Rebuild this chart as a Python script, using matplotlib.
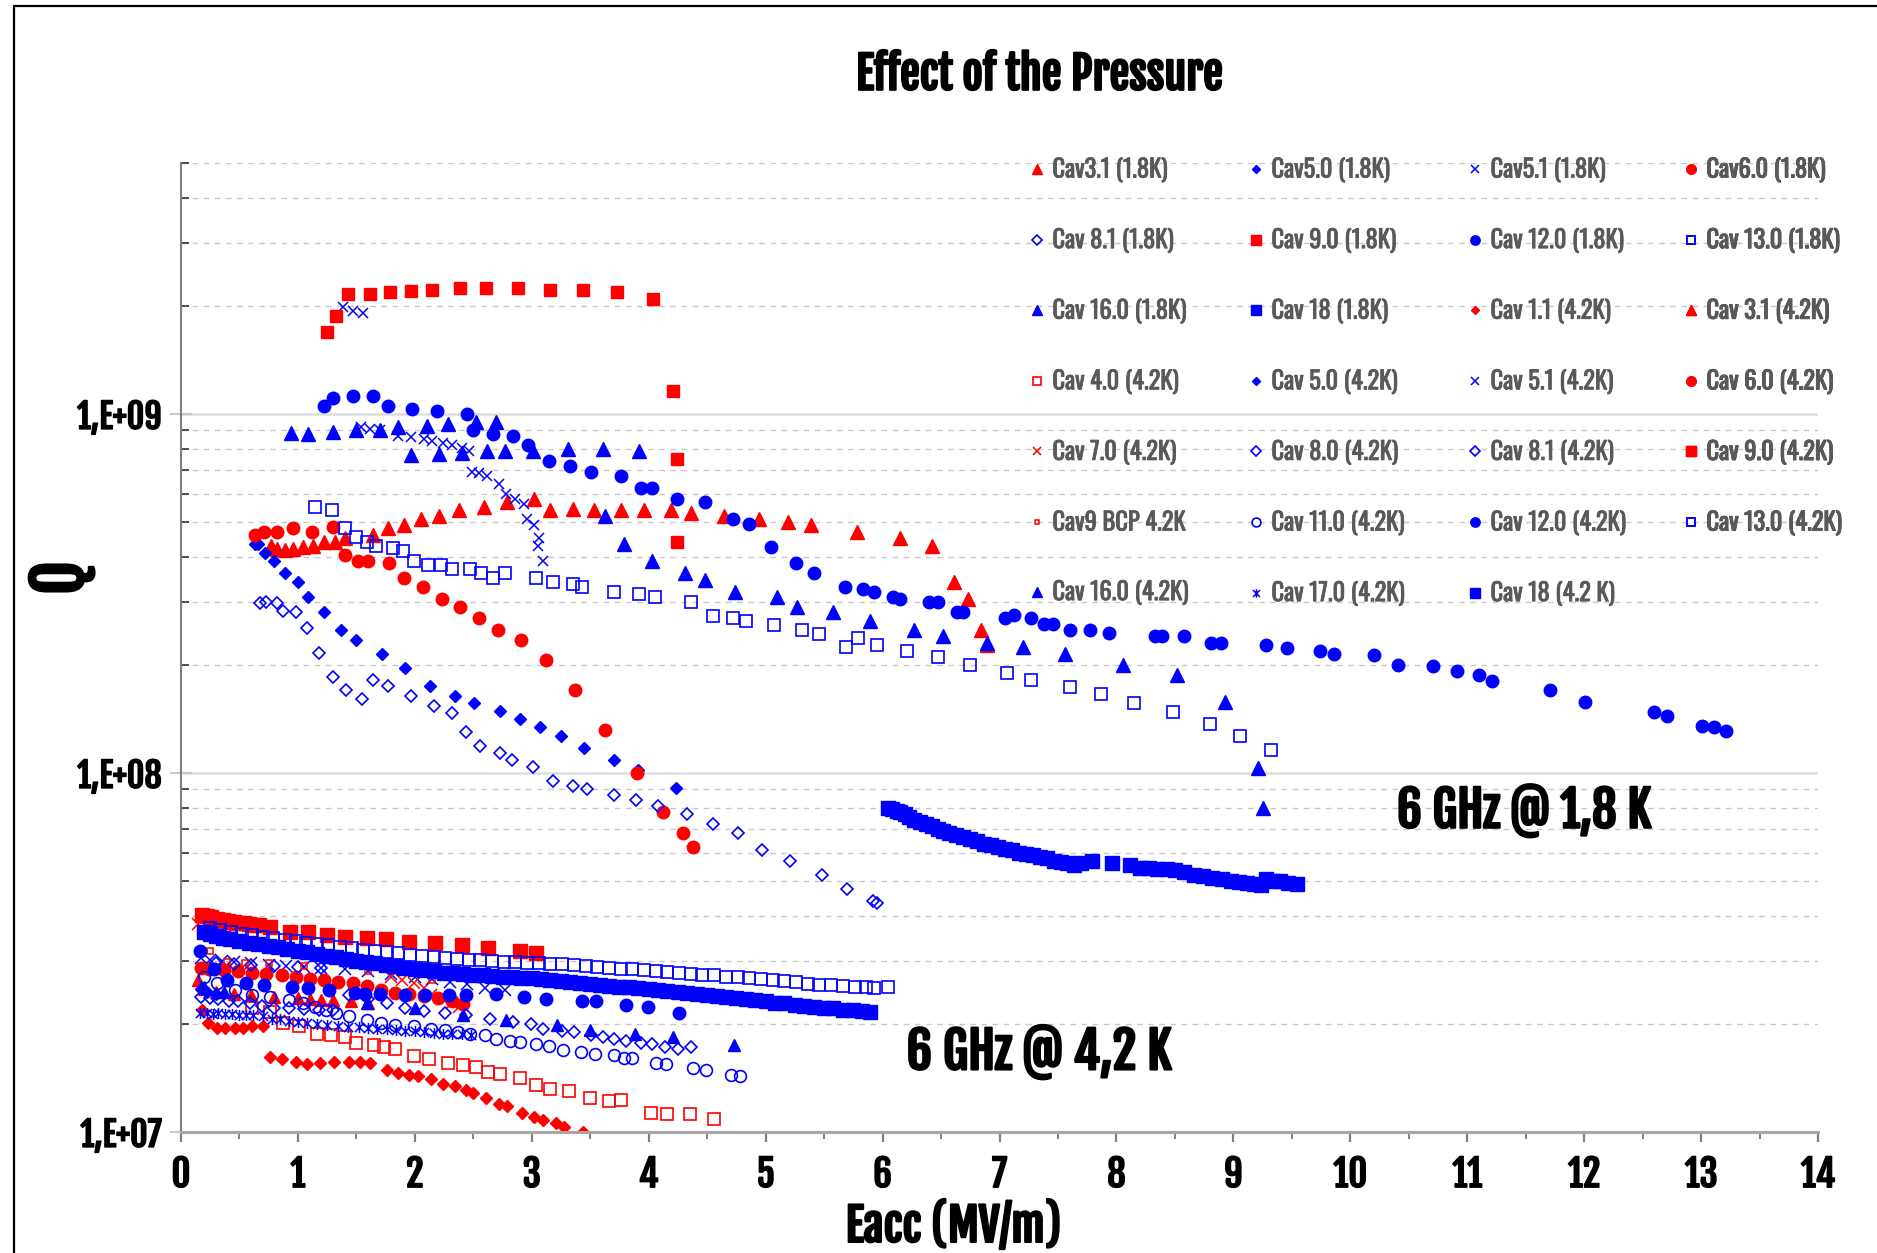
import matplotlib
matplotlib.use('Agg')
import matplotlib.pyplot as plt
from matplotlib import font_manager as fm
from matplotlib import patheffects as pe
from matplotlib.path import Path
from matplotlib.patches import Rectangle
from matplotlib.ticker import LogLocator, NullFormatter, MultipleLocator

# condensed fonts close to the original look
avail = {}
for f in fm.fontManager.ttflist:
    avail.setdefault(f.name, set()).add(f.weight)


def first_font(cands):
    for c in cands:
        if c in avail:
            return c
    return 'DejaVu Sans'


if 700 in avail.get('Oswald', set()) or 'bold' in avail.get('Oswald', set()):
    HEAVY = 'Oswald'
else:
    HEAVY = first_font(['Fjalla One', 'Oswald', 'PT Sans Narrow', 'Open Sans Condensed'])
LIGHT = first_font(['Oswald', 'PT Sans Narrow', 'IBM Plex Sans Condensed'])

plt.rcParams['font.family'] = [HEAVY, 'DejaVu Sans']
plt.rcParams['font.weight'] = 'bold'

RED = '#FF0000'
BLUE = '#0000FF'

# ---- 1.8 K series (Eacc in MV/m, Q) ----
cav31_18_x = [0.77, 0.82, 0.89, 0.96, 1.04, 1.13, 1.22, 1.32, 1.40, 1.64, 1.77, 1.91, 2.05, 2.21, 2.38, 2.59, 2.79, 3.02,
              3.16, 3.35, 3.53, 3.76, 3.96, 4.19, 4.36, 4.64, 4.94, 5.19, 5.39, 5.78, 6.15, 6.42, 6.61, 6.73, 6.84, 6.89]
cav31_18_q = [4.3e8, 4.2e8, 4.18e8, 4.2e8, 4.27e8, 4.3e8, 4.4e8, 4.4e8, 4.5e8, 4.6e8, 4.8e8, 4.9e8, 5.1e8, 5.2e8, 5.4e8,
              5.5e8, 5.7e8, 5.8e8, 5.4e8, 5.45e8, 5.4e8, 5.4e8, 5.4e8, 5.4e8, 5.3e8, 5.2e8, 5.1e8, 5.0e8, 4.9e8, 4.7e8,
              4.5e8, 4.3e8, 3.4e8, 3.05e8, 2.5e8, 2.27e8]

cav50_18_x = [0.63, 0.66, 0.72, 0.80, 0.89, 1.00, 1.09, 1.22, 1.37, 1.50, 1.72, 1.92, 2.13, 2.34, 2.51, 2.73, 2.90, 3.07,
              3.25, 3.45, 3.70, 3.91, 4.23]
cav50_18_q = [4.35e8, 4.33e8, 4.1e8, 3.9e8, 3.6e8, 3.4e8, 3.1e8, 2.8e8, 2.5e8, 2.35e8, 2.15e8, 1.96e8, 1.75e8, 1.64e8,
              1.57e8, 1.49e8, 1.41e8, 1.34e8, 1.27e8, 1.17e8, 1.09e8, 1.02e8, 9.1e7]

cav51_18_x = [1.39, 1.47, 1.56, 1.54, 1.62, 1.70, 1.86, 1.97, 2.08, 2.15, 2.24, 2.32, 2.40, 2.46, 2.49, 2.55, 2.62, 2.72,
              2.78, 2.86, 2.93, 2.96, 3.02, 3.06, 3.05, 3.10]
cav51_18_q = [1.98e9, 1.94e9, 1.91e9, 9.2e8, 9.1e8, 9.0e8, 8.7e8, 8.6e8, 8.5e8, 8.4e8, 8.3e8, 8.2e8, 8.05e8, 7.9e8,
              6.9e8, 6.85e8, 6.7e8, 6.4e8, 6.0e8, 5.8e8, 5.6e8, 5.1e8, 4.9e8, 4.5e8, 4.3e8, 3.9e8]

cav60_18_x = [0.63, 0.71, 0.82, 0.96, 1.12, 1.30, 1.40, 1.51, 1.60, 1.78, 1.91, 2.07, 2.23, 2.39, 2.55, 2.71, 2.91, 3.12,
              3.37, 3.63, 3.90, 4.12, 4.29, 4.38]
cav60_18_q = [4.6e8, 4.7e8, 4.7e8, 4.8e8, 4.7e8, 4.85e8, 4.05e8, 3.9e8, 3.9e8, 3.85e8, 3.5e8, 3.3e8, 3.06e8, 2.9e8,
              2.7e8, 2.5e8, 2.35e8, 2.06e8, 1.70e8, 1.32e8, 1.0e8, 7.8e7, 6.8e7, 6.2e7]

cav81_18_x = [0.68, 0.73, 0.82, 0.87, 0.98, 1.08, 1.18, 1.30, 1.41, 1.55, 1.64, 1.77, 1.97, 2.16, 2.32, 2.44, 2.56, 2.73,
              2.83, 3.01, 3.18, 3.35, 3.47, 3.70, 3.89, 4.08, 4.33, 4.55, 4.76, 4.97, 5.21, 5.48, 5.70, 5.92, 5.95]
cav81_18_q = [2.97e8, 2.99e8, 2.97e8, 2.83e8, 2.81e8, 2.54e8, 2.16e8, 1.85e8, 1.70e8, 1.61e8, 1.81e8, 1.75e8, 1.64e8,
              1.54e8, 1.47e8, 1.30e8, 1.19e8, 1.14e8, 1.09e8, 1.04e8, 9.5e7, 9.2e7, 9.0e7, 8.7e7, 8.4e7, 8.1e7, 7.7e7,
              7.2e7, 6.8e7, 6.1e7, 5.7e7, 5.2e7, 4.75e7, 4.4e7, 4.35e7]

cav90_18_x = [1.25, 1.33, 1.43, 1.62, 1.79, 1.97, 2.15, 2.39, 2.61, 2.88, 3.16, 3.44, 3.73, 4.04, 4.21, 4.24, 4.24]
cav90_18_q = [1.69e9, 1.87e9, 2.16e9, 2.16e9, 2.18e9, 2.20e9, 2.21e9, 2.24e9, 2.24e9, 2.24e9, 2.22e9, 2.21e9,
              2.18e9, 2.09e9, 1.16e9, 7.5e8, 4.4e8]

cav120_18_x = [1.22, 1.30, 1.47, 1.64, 1.77, 1.98, 2.19, 2.45, 2.50, 2.67, 2.84, 2.97, 3.15, 3.33, 3.51, 3.76, 3.93,
               4.03, 4.24, 4.48, 4.72, 4.86, 5.05, 5.26, 5.41, 5.68, 5.83, 5.93, 6.09, 6.15, 6.40, 6.47, 6.64, 6.69,
               7.05, 7.12, 7.27, 7.38, 7.46, 7.60, 7.77, 7.94, 8.33, 8.39, 8.58, 8.81, 8.89, 9.28, 9.46, 9.74, 9.86,
               10.20, 10.41, 10.71, 10.91, 11.10, 11.21, 11.71, 12.01, 12.60, 12.71, 13.01, 13.11, 13.21]
cav120_18_q = [1.05e9, 1.11e9, 1.12e9, 1.12e9, 1.05e9, 1.03e9, 1.02e9, 1.0e9, 9.0e8, 8.8e8, 8.7e8, 8.2e8, 7.4e8,
               7.15e8, 6.9e8, 6.7e8, 6.2e8, 6.2e8, 5.8e8, 5.7e8, 5.1e8, 4.95e8, 4.25e8, 3.85e8, 3.6e8, 3.3e8, 3.25e8,
               3.2e8, 3.1e8, 3.05e8, 3.0e8, 3.0e8, 2.8e8, 2.8e8, 2.7e8, 2.75e8, 2.7e8, 2.6e8, 2.6e8, 2.5e8, 2.5e8,
               2.45e8, 2.4e8, 2.4e8, 2.4e8, 2.3e8, 2.3e8, 2.27e8, 2.23e8, 2.18e8, 2.14e8, 2.13e8, 2.0e8, 1.99e8,
               1.92e8, 1.88e8, 1.80e8, 1.70e8, 1.58e8, 1.48e8, 1.44e8, 1.35e8, 1.34e8, 1.31e8]

cav130_18_x = [1.15, 1.29, 1.40, 1.50, 1.59, 1.67, 1.81, 1.90, 1.99, 2.11, 2.22, 2.32, 2.47, 2.57, 2.67, 2.77, 3.04,
               3.18, 3.35, 3.43, 3.70, 3.92, 4.05, 4.36, 4.55, 4.72, 4.83, 5.07, 5.31, 5.46, 5.69, 5.79, 5.95, 6.21,
               6.47, 6.75, 7.06, 7.27, 7.60, 7.87, 8.15, 8.48, 8.80, 9.06, 9.32]
cav130_18_q = [5.5e8, 5.4e8, 4.8e8, 4.55e8, 4.4e8, 4.3e8, 4.24e8, 4.16e8, 3.9e8, 3.8e8, 3.8e8, 3.7e8, 3.7e8, 3.6e8,
               3.5e8, 3.6e8, 3.5e8, 3.4e8, 3.37e8, 3.3e8, 3.2e8, 3.16e8, 3.1e8, 3.0e8, 2.74e8, 2.7e8, 2.65e8, 2.58e8,
               2.5e8, 2.44e8, 2.25e8, 2.37e8, 2.27e8, 2.18e8, 2.1e8, 2.0e8, 1.9e8, 1.82e8, 1.74e8, 1.66e8, 1.57e8,
               1.48e8, 1.37e8, 1.27e8, 1.16e8]

cav160_18_x = [0.94, 1.09, 1.30, 1.50, 1.70, 1.86, 2.10, 2.28, 2.52, 2.69,
               1.97, 2.21, 2.40, 2.62, 2.77, 3.01, 3.31, 3.61, 3.92,
               3.63, 3.79, 4.03, 4.31, 4.48, 4.74, 5.10, 5.27, 5.58, 5.89, 6.27, 6.52, 6.89, 7.20, 7.56, 8.06, 8.52,
               8.93, 9.21, 9.25]
cav160_18_q = [8.85e8, 8.8e8, 8.9e8, 9.0e8, 9.05e8, 9.2e8, 9.25e8, 9.4e8, 9.5e8, 9.5e8,
               7.7e8, 7.75e8, 7.8e8, 7.9e8, 7.9e8, 7.9e8, 8.0e8, 8.0e8, 7.9e8,
               5.2e8, 4.35e8, 3.9e8, 3.6e8, 3.45e8, 3.2e8, 3.1e8, 2.9e8, 2.8e8, 2.65e8, 2.5e8, 2.4e8, 2.3e8, 2.25e8,
               2.14e8, 2.0e8, 1.87e8, 1.58e8, 1.03e8, 8.0e7]

cav18_18_x = [6.05, 6.08, 6.12, 6.15, 6.19, 6.23, 6.27, 6.32, 6.37, 6.42, 6.47, 6.52, 6.57, 6.63, 6.69, 6.75, 6.81,
              6.87, 6.93, 6.99, 7.05, 7.11, 7.17, 7.23, 7.29, 7.35, 7.41, 7.47, 7.53, 7.58, 7.64, 7.70, 7.79, 7.96,
              8.12, 8.20, 8.28, 8.35, 8.43, 8.50, 8.58, 8.66, 8.74, 8.82, 8.90, 8.98, 9.05, 9.12, 9.18, 9.24, 9.28,
              9.34, 9.40, 9.47, 9.54]
cav18_18_q = [8.0e7, 7.95e7, 7.85e7, 7.8e7, 7.7e7, 7.55e7, 7.4e7, 7.3e7, 7.2e7, 7.1e7, 7.0e7, 6.9e7, 6.8e7, 6.7e7,
              6.65e7, 6.55e7, 6.45e7, 6.35e7, 6.3e7, 6.2e7, 6.15e7, 6.1e7, 6.0e7, 5.95e7, 5.9e7, 5.85e7, 5.8e7,
              5.7e7, 5.65e7, 5.6e7, 5.55e7, 5.6e7, 5.7e7, 5.6e7, 5.55e7, 5.45e7, 5.45e7, 5.4e7, 5.4e7, 5.35e7,
              5.3e7, 5.2e7, 5.15e7, 5.1e7, 5.05e7, 5.0e7, 4.98e7, 4.95e7, 4.9e7, 4.87e7, 5.05e7, 5.0e7, 5.0e7,
              4.95e7, 4.9e7]

# ---- 4.2 K series ----
cav11_42_x = [0.18, 0.23, 0.31, 0.38, 0.46, 0.53, 0.61, 0.70,
              0.76, 0.86, 0.98, 1.08, 1.19, 1.31, 1.44, 1.53, 1.62, 1.76, 1.86, 1.95, 2.03, 2.14, 2.24, 2.34, 2.44,
              2.50, 2.61, 2.72, 2.79, 2.92, 3.02, 3.10, 3.21, 3.28, 3.44]
cav11_42_q = [2.19e7, 2.01e7, 1.95e7, 1.95e7, 1.95e7, 1.95e7, 1.97e7, 1.97e7,
              1.62e7, 1.60e7, 1.57e7, 1.55e7, 1.56e7, 1.57e7, 1.57e7, 1.57e7, 1.56e7, 1.49e7, 1.46e7, 1.44e7,
              1.43e7, 1.40e7, 1.36e7, 1.34e7, 1.31e7, 1.28e7, 1.24e7, 1.20e7, 1.18e7, 1.13e7, 1.10e7, 1.08e7,
              1.06e7, 1.03e7, 1.0e7]

cav31_42_x = [0.15, 0.20, 0.30, 0.45, 0.60, 0.80, 1.00, 1.10, 1.20, 1.30, 1.45, 1.60]
cav31_42_q = [2.65e7, 2.5e7, 2.45e7, 2.42e7, 2.4e7, 2.38e7, 2.36e7, 2.34e7, 2.33e7, 2.33e7, 2.32e7, 2.28e7]

cav40_42_x = [0.61, 0.76, 0.87, 1.01, 1.16, 1.28, 1.40, 1.50, 1.65, 1.74, 1.83, 1.99, 2.12, 2.28, 2.41, 2.52, 2.63,
              2.73, 2.90, 3.04, 3.16, 3.32, 3.50, 3.66, 3.76, 4.02, 4.16, 4.35, 4.56]
cav40_42_q = [2.21e7, 2.16e7, 2.01e7, 1.97e7, 1.88e7, 1.86e7, 1.84e7, 1.77e7, 1.75e7, 1.73e7, 1.70e7, 1.63e7,
              1.60e7, 1.56e7, 1.54e7, 1.52e7, 1.47e7, 1.45e7, 1.41e7, 1.35e7, 1.32e7, 1.30e7, 1.24e7, 1.22e7,
              1.23e7, 1.13e7, 1.12e7, 1.12e7, 1.09e7]

cav50_42_x = [0.17, 0.22, 0.30]
cav50_42_q = [2.5e7, 2.45e7, 2.42e7]

cav51_42_x = [0.17, 0.25, 0.35, 0.45, 0.60, 0.75, 0.90, 1.05, 1.20, 1.40, 1.60, 1.80, 2.00, 2.15, 2.30, 2.45, 2.60,
              2.77]
cav51_42_q = [3.05e7, 3.02e7, 3.0e7, 2.98e7, 2.95e7, 2.92e7, 2.9e7, 2.88e7, 2.86e7, 2.84e7, 2.8e7, 2.75e7, 2.7e7,
              2.67e7, 2.62e7, 2.58e7, 2.52e7, 2.48e7]

cav60_42_x = [0.17, 0.24, 0.37, 0.49, 0.61, 0.73, 0.86, 0.98, 1.10, 1.22, 1.34, 1.47, 1.59, 1.71, 1.83, 1.95, 2.08,
              2.20, 2.32, 2.41]
cav60_42_q = [2.87e7, 2.84e7, 2.82e7, 2.8e7, 2.78e7, 2.75e7, 2.73e7, 2.71e7, 2.67e7, 2.65e7, 2.62e7, 2.6e7,
              2.55e7, 2.49e7, 2.44e7, 2.42e7, 2.39e7, 2.36e7, 2.31e7, 2.27e7]

cav70_42_x = [0.15, 0.22, 0.30, 0.38, 1.80, 1.89, 1.99, 2.08, 2.14, 2.23, 2.32, 2.38]
cav70_42_q = [3.8e7, 3.78e7, 3.76e7, 3.75e7, 2.71e7, 2.65e7, 2.6e7, 2.51e7, 2.41e7, 2.36e7, 2.28e7, 2.23e7]

cav80_42_x = [0.17, 0.25, 0.32, 0.41, 0.49, 0.59, 0.69, 0.80, 0.92, 1.05, 1.18, 1.30]
cav80_42_q = [2.38e7, 2.36e7, 2.34e7, 2.32e7, 2.31e7, 2.28e7, 2.24e7, 2.22e7, 2.21e7, 2.2e7, 2.19e7, 2.18e7]

cav81_42_x = [0.30, 0.45, 0.60, 0.80, 1.00, 1.20, 1.44, 1.60, 1.76, 1.92, 2.08, 2.26, 2.44, 2.64, 2.84, 2.99, 3.10,
              3.26, 3.36, 3.51, 3.61, 3.70, 3.81, 3.93, 4.03, 4.14, 4.25, 4.36]
cav81_42_q = [2.95e7, 2.93e7, 2.91e7, 2.9e7, 2.88e7, 2.86e7, 2.40e7, 2.35e7, 2.29e7, 2.22e7, 2.17e7, 2.14e7,
              2.12e7, 2.07e7, 2.03e7, 2.0e7, 1.94e7, 1.91e7, 1.9e7, 1.86e7, 1.84e7, 1.81e7, 1.79e7, 1.77e7,
              1.76e7, 1.73e7, 1.7e7, 1.73e7]

cav90_42_x = [0.18, 0.22, 0.26, 0.31, 0.36, 0.40, 0.45, 0.49, 0.54, 0.58, 0.63, 0.67, 0.76, 0.93, 1.09, 1.25, 1.40,
              1.59, 1.75, 1.95, 2.17, 2.40, 2.63, 2.90, 3.04]
cav90_42_q = [4.03e7, 4.0e7, 3.97e7, 3.93e7, 3.9e7, 3.88e7, 3.85e7, 3.83e7, 3.81e7, 3.8e7, 3.78e7, 3.77e7, 3.72e7,
              3.6e7, 3.6e7, 3.54e7, 3.5e7, 3.46e7, 3.45e7, 3.39e7, 3.37e7, 3.32e7, 3.25e7, 3.19e7, 3.16e7]

cav9bcp_x = [0.25, 0.39, 0.55, 0.75, 1.05, 1.60, 2.15]
cav9bcp_q = [3.2e7, 2.98e7, 2.96e7, 2.95e7, 2.89e7, 2.8e7, 2.65e7]

cav110_42_x = [0.20, 0.31, 0.46, 0.61, 0.76, 0.92, 1.04, 1.15, 1.24, 1.33, 1.44, 1.59, 1.71, 1.83, 1.99, 2.14, 2.26,
               2.37, 2.47, 2.60, 2.69, 2.81, 2.90, 3.04, 3.15, 3.27, 3.42, 3.54, 3.70, 3.79, 3.86, 4.06, 4.15, 4.38,
               4.49, 4.70, 4.78]
cav110_42_q = [2.7e7, 2.6e7, 2.49e7, 2.41e7, 2.37e7, 2.33e7, 2.28e7, 2.23e7, 2.19e7, 2.14e7, 2.1e7, 2.05e7,
               2.01e7, 1.99e7, 1.97e7, 1.93e7, 1.92e7, 1.9e7, 1.88e7, 1.86e7, 1.81e7, 1.79e7, 1.78e7, 1.76e7,
               1.74e7, 1.69e7, 1.67e7, 1.65e7, 1.64e7, 1.61e7, 1.61e7, 1.56e7, 1.55e7, 1.51e7, 1.49e7, 1.44e7,
               1.43e7]

cav120_42_x = [0.16, 0.28, 0.39, 0.56, 0.71, 0.95, 1.09, 1.27, 1.49, 1.57, 1.70, 1.92, 2.09, 2.29, 2.44, 2.69, 2.93,
               3.12, 3.43, 3.55, 3.81, 3.99, 4.26]
cav120_42_q = [3.2e7, 2.84e7, 2.65e7, 2.6e7, 2.57e7, 2.53e7, 2.51e7, 2.48e7, 2.44e7, 2.43e7, 2.43e7, 2.41e7,
               2.4e7, 2.4e7, 2.4e7, 2.42e7, 2.38e7, 2.35e7, 2.32e7, 2.31e7, 2.26e7, 2.23e7, 2.15e7]

cav130_42_x = [0.25, 0.33, 0.43, 0.52, 0.61, 0.70, 0.79, 0.89, 0.98, 1.07, 1.16, 1.26, 1.36, 1.46, 1.56, 1.66, 1.76,
               1.86, 1.96, 2.06, 2.16, 2.26, 2.36, 2.46, 2.56, 2.66, 2.76, 2.86, 2.96, 3.06, 3.16, 3.26, 3.36, 3.46,
               3.56, 3.66, 3.76, 3.86, 3.96, 4.06, 4.16, 4.26, 4.36, 4.46, 4.56, 4.66, 4.76, 4.86, 4.96, 5.06, 5.16,
               5.26, 5.36, 5.46, 5.56, 5.66, 5.76, 5.86, 5.93, 6.05]
cav130_42_q = [3.7e7, 3.65e7, 3.6e7, 3.57e7, 3.54e7, 3.5e7, 3.47e7, 3.43e7, 3.4e7, 3.37e7, 3.34e7, 3.31e7, 3.28e7,
               3.25e7, 3.22e7, 3.2e7, 3.17e7, 3.15e7, 3.12e7, 3.1e7, 3.07e7, 3.05e7, 3.04e7, 3.02e7, 3.01e7, 3.0e7,
               2.98e7, 2.97e7, 2.96e7, 2.95e7, 2.94e7, 2.93e7, 2.92e7, 2.9e7, 2.88e7, 2.87e7, 2.85e7, 2.84e7,
               2.82e7, 2.8e7, 2.79e7, 2.77e7, 2.75e7, 2.74e7, 2.73e7, 2.71e7, 2.7e7, 2.69e7, 2.67e7, 2.65e7,
               2.63e7, 2.61e7, 2.59e7, 2.57e7, 2.56e7, 2.55e7, 2.54e7, 2.53e7, 2.52e7, 2.53e7]

cav160_42_x = [0.20, 0.37, 1.59, 2.00, 2.41, 2.78, 3.22, 3.50, 3.88, 4.21, 4.73]
cav160_42_q = [2.54e7, 2.46e7, 2.29e7, 2.21e7, 2.12e7, 2.05e7, 1.99e7, 1.92e7, 1.88e7, 1.84e7, 1.75e7]

cav170_42_x = [0.16, 0.22, 0.27, 0.32, 0.38, 0.44, 0.50, 0.56, 0.62, 0.70, 0.78, 0.85, 0.92, 1.00, 1.08, 1.16, 1.25,
               1.34, 1.43, 1.52, 1.60, 1.68, 1.76, 1.84, 1.92, 2.00, 2.08, 2.16, 2.24, 2.32, 2.40, 2.48]
cav170_42_q = [2.14e7, 2.14e7, 2.13e7, 2.14e7, 2.13e7, 2.13e7, 2.12e7, 2.12e7, 2.12e7, 2.10e7, 2.07e7, 2.06e7,
               2.04e7, 2.02e7, 2.01e7, 2.0e7, 1.98e7, 1.97e7, 1.96e7, 1.96e7, 1.95e7, 1.94e7, 1.93e7, 1.92e7,
               1.91e7, 1.91e7, 1.9e7, 1.89e7, 1.88e7, 1.88e7, 1.87e7, 1.86e7]

cav18_42_x = [0.20, 0.25, 0.30, 0.36, 0.42, 0.50, 0.58, 0.66, 0.75, 0.83, 0.91, 1.00, 1.08, 1.16, 1.25, 1.33, 1.41,
              1.50, 1.58, 1.66, 1.75, 1.83, 1.91, 2.00, 2.08, 2.16, 2.25, 2.33, 2.41, 2.50, 2.58, 2.66, 2.75, 2.83,
              2.91, 3.00, 3.08, 3.16, 3.25, 3.33, 3.41, 3.50, 3.58, 3.66, 3.75, 3.83, 3.91, 4.00, 4.08, 4.16, 4.25,
              4.33, 4.41, 4.50, 4.58, 4.66, 4.75, 4.83, 4.91, 5.00, 5.08, 5.16, 5.25, 5.33, 5.41, 5.50, 5.58, 5.66,
              5.75, 5.82, 5.89]
cav18_42_q = [3.6e7, 3.56e7, 3.52e7, 3.48e7, 3.45e7, 3.4e7, 3.37e7, 3.34e7, 3.3e7, 3.27e7, 3.23e7, 3.2e7, 3.17e7,
              3.13e7, 3.1e7, 3.07e7, 3.03e7, 3.0e7, 2.97e7, 2.95e7, 2.92e7, 2.9e7, 2.87e7, 2.85e7, 2.83e7, 2.8e7,
              2.78e7, 2.77e7, 2.75e7, 2.74e7, 2.73e7, 2.72e7, 2.71e7, 2.7e7, 2.69e7, 2.68e7, 2.66e7, 2.65e7,
              2.63e7, 2.61e7, 2.6e7, 2.58e7, 2.57e7, 2.55e7, 2.54e7, 2.53e7, 2.51e7, 2.5e7, 2.48e7, 2.47e7, 2.45e7,
              2.44e7, 2.42e7, 2.41e7, 2.39e7, 2.38e7, 2.36e7, 2.34e7, 2.33e7, 2.31e7, 2.29e7, 2.28e7, 2.26e7,
              2.25e7, 2.23e7, 2.22e7, 2.21e7, 2.19e7, 2.18e7, 2.17e7, 2.16e7]

# x with a vertical bar, like the spreadsheet "star" marker
STAR = Path([(-1, -1), (1, 1), (-1, 1), (1, -1), (0, -1.2), (0, 1.2)],
            [Path.MOVETO, Path.LINETO, Path.MOVETO, Path.LINETO, Path.MOVETO, Path.LINETO])

# label, x, q, marker, colour, filled, markersize, edge width
series = [
    ('Cav3.1 (1.8K)', cav31_18_x, cav31_18_q, '^', RED, True, 9.5, 1),
    ('Cav5.0 (1.8K)', cav50_18_x, cav50_18_q, 'D', BLUE, True, 5.8, 1),
    ('Cav5.1 (1.8K)', cav51_18_x, cav51_18_q, 'x', BLUE, False, 7, 1.1),
    ('Cav6.0 (1.8K)', cav60_18_x, cav60_18_q, 'o', RED, True, 9, 1),
    ('Cav 8.1 (1.8K)', cav81_18_x, cav81_18_q, 'D', BLUE, False, 6.3, 1.2),
    ('Cav 9.0 (1.8K)', cav90_18_x, cav90_18_q, 's', RED, True, 9, 1),
    ('Cav 12.0 (1.8K)', cav120_18_x, cav120_18_q, 'o', BLUE, True, 9, 1),
    ('Cav 13.0 (1.8K)', cav130_18_x, cav130_18_q, 's', BLUE, False, 8.5, 1.2),
    ('Cav 16.0 (1.8K)', cav160_18_x, cav160_18_q, '^', BLUE, True, 9.5, 1),
    ('Cav 18 (1.8K)', cav18_18_x, cav18_18_q, 's', BLUE, True, 10, 1),
    ('Cav 1.1 (4.2K)', cav11_42_x, cav11_42_q, 'D', RED, True, 5.8, 1),
    ('Cav 3.1 (4.2K)', cav31_42_x, cav31_42_q, '^', RED, True, 9, 1),
    ('Cav 4.0 (4.2K)', cav40_42_x, cav40_42_q, 's', RED, False, 8.5, 1.2),
    ('Cav 5.0 (4.2K)', cav50_42_x, cav50_42_q, 'D', BLUE, True, 5.8, 1),
    ('Cav 5.1 (4.2K)', cav51_42_x, cav51_42_q, 'x', BLUE, False, 8, 1.1),
    ('Cav 6.0 (4.2K)', cav60_42_x, cav60_42_q, 'o', RED, True, 9, 1),
    ('Cav 7.0 (4.2K)', cav70_42_x, cav70_42_q, 'x', RED, False, 8, 1.1),
    ('Cav 8.0 (4.2K)', cav80_42_x, cav80_42_q, 'D', BLUE, False, 6.3, 1.2),
    ('Cav 8.1 (4.2K)', cav81_42_x, cav81_42_q, 'D', BLUE, False, 6.3, 1.2),
    ('Cav 9.0 (4.2K)', cav90_42_x, cav90_42_q, 's', RED, True, 9.5, 1),
    ('Cav9 BCP 4.2K', cav9bcp_x, cav9bcp_q, 's', RED, False, 4.5, 1.1),
    ('Cav 11.0 (4.2K)', cav110_42_x, cav110_42_q, 'o', BLUE, False, 8.5, 1.2),
    ('Cav 12.0 (4.2K)', cav120_42_x, cav120_42_q, 'o', BLUE, True, 9, 1),
    ('Cav 13.0 (4.2K)', cav130_42_x, cav130_42_q, 's', BLUE, False, 8.5, 1.2),
    ('Cav 16.0 (4.2K)', cav160_42_x, cav160_42_q, '^', BLUE, True, 9, 1),
    ('Cav 17.0 (4.2K)', cav170_42_x, cav170_42_q, STAR, BLUE, False, 8, 1.1),
    ('Cav 18 (4.2 K)', cav18_42_x, cav18_42_q, 's', BLUE, True, 10, 1),
]

fig = plt.figure(figsize=(18.77, 12.53), dpi=100)
ax = fig.add_axes([0.0964, 0.0966, 0.8722, 0.7733])

handles = []
for label, xs, qs, mk, col, filled, ms, mew in series:
    h, = ax.plot(xs, qs, linestyle='none', marker=mk, ms=ms, mew=mew,
                 mec=col, mfc=col if filled else 'none', label=label)
    handles.append(h)

ax.set_yscale('log')
ax.set_xlim(0, 14)
ax.set_ylim(1e7, 5e9)

ax.set_yticks([1e7, 1e8, 1e9], labels=['1,E+07', '1,E+08', '1,E+09'])
ax.yaxis.set_minor_locator(LogLocator(base=10, subs=range(2, 10)))
ax.yaxis.set_minor_formatter(NullFormatter())
ax.set_xticks(range(15))
ax.xaxis.set_minor_locator(MultipleLocator(0.5))

ax.tick_params(axis='y', which='major', direction='inout', length=16, width=1.5, color='#C8C8C8',
               labelsize=17, pad=6)
ax.tick_params(axis='y', which='minor', direction='in', length=6, width=1.3, color='#404040')
ax.tick_params(axis='x', which='major', direction='out', length=7, width=1.6, color='#808080',
               labelsize=19, pad=9)
ax.tick_params(axis='x', which='minor', direction='out', length=5, width=1.4, color='#808080')

ax.set_axisbelow(True)
ax.yaxis.grid(True, which='major', color='#DDDDDD', lw=1.8, ls='-')
ax.yaxis.grid(True, which='minor', color='#C8C8C8', lw=1, ls=(0, (4, 4)))

for side in ['top', 'right']:
    ax.spines[side].set_visible(False)
ax.spines['left'].set_color('#7F7F7F')
ax.spines['left'].set_linewidth(1.5)
ax.spines['bottom'].set_color('#A6A6A6')
ax.spines['bottom'].set_linewidth(2.2)

xlab = ax.set_xlabel('Eacc (MV/m)', fontsize=32, va='center')
ax.xaxis.set_label_coords(0.472, -0.098)
ylab = ax.set_ylabel('Q', fontsize=36, va='center')
ax.yaxis.set_label_coords(-0.072, 0.574)
title = ax.set_title('Effect of the Pressure', fontsize=30, x=0.524, y=1.082, va='center')

ann18 = ax.text(11.49, 7.8e7, '6 GHz @ 1,8 K', fontsize=34, ha='center', va='center')
ann42 = ax.text(7.34, 1.66e7, '6 GHz @ 4,2 K', fontsize=34, ha='center', va='center')

# scale the texts so their widths match the original (pixels)
fig.canvas.draw()
rend = fig.canvas.get_renderer()


def fit_width(txt, target):
    for _ in range(2):
        w = txt.get_window_extent(rend).width
        txt.set_fontsize(txt.get_fontsize() * target / w)


fit_width(title, 368)
fit_width(xlab, 216)
fit_width(ann18, 255)
fit_width(ann42, 266)

# "Q" a little larger than the x label, centred near x=62, y=576 (from the top) in the original
ylab.set_fontsize(xlab.get_fontsize() * 1.45)
bq = ylab.get_window_extent(rend)
qx = -0.072 + (62 - (bq.x0 + bq.x1) / 2) / 1637
qy = 0.574 + ((1253 - 578) - (bq.y0 + bq.y1) / 2) / 969
ax.yaxis.set_label_coords(qx, qy)

ytl = ax.get_yticklabels()[-1]
size_y = 17 * 85 / ytl.get_window_extent(rend).width
ax.tick_params(axis='y', which='major', labelsize=size_y)
ax.tick_params(axis='x', which='major', labelsize=size_y * 1.08)

# the original uses a heavy weight; thicken the strokes a little
heavy = [pe.withStroke(linewidth=1.6, foreground='black')]
for t in [title, xlab, ylab, ann18, ann42]:
    t.set_path_effects(heavy)
thin = [pe.withStroke(linewidth=1.0, foreground='black')]
for t in ax.get_xticklabels() + ax.get_yticklabels():
    t.set_path_effects(thin)

# legend font size: "Cav3.1 (1.8K)" is about 117 px wide in the original
probe = fig.text(0, 0, 'Cav3.1 (1.8K)', family=[LIGHT, 'DejaVu Sans'], weight='normal', fontsize=13.5)
pw = probe.get_window_extent(rend).width
leg_fs = 13.5 * 115 / pw
probe.set_fontsize(leg_fs)
ph = probe.get_window_extent(rend).height
probe.remove()
fs_px = leg_fs * 100 / 72
leg_spacing = (70.6 - ph) / fs_px
leg_top = 1 + (163 - (170.5 - ph / 2)) / 969

# legend: 4 columns laid out like the spreadsheet, filled row by row
col_x = [0.5183, 0.6521, 0.7859, 0.9178]
for j, xa in enumerate(col_x):
    hs = handles[j::4]
    leg = ax.legend(handles=hs, labels=[h.get_label() for h in hs], loc='upper left',
                    bbox_to_anchor=(xa, leg_top), frameon=False,
                    prop=fm.FontProperties(family=[LIGHT, 'DejaVu Sans'], weight='normal', size=leg_fs),
                    markerscale=0.75, handlelength=15 / fs_px, handletextpad=8 / fs_px,
                    labelspacing=leg_spacing, borderpad=0, borderaxespad=0, numpoints=1,
                    labelcolor='#595959')
    for t in leg.get_texts():
        t.set_path_effects([pe.withStroke(linewidth=0.6, foreground='#595959')])
    ax.add_artist(leg)

# outer frame of the original screenshot
fig.add_artist(Rectangle((14 / 1877, -0.05), 1.2, (1253 - 6) / 1253 + 0.05, transform=fig.transFigure,
                         fill=False, edgecolor='black', lw=1.6))

fig.savefig('out.png', dpi=100)
